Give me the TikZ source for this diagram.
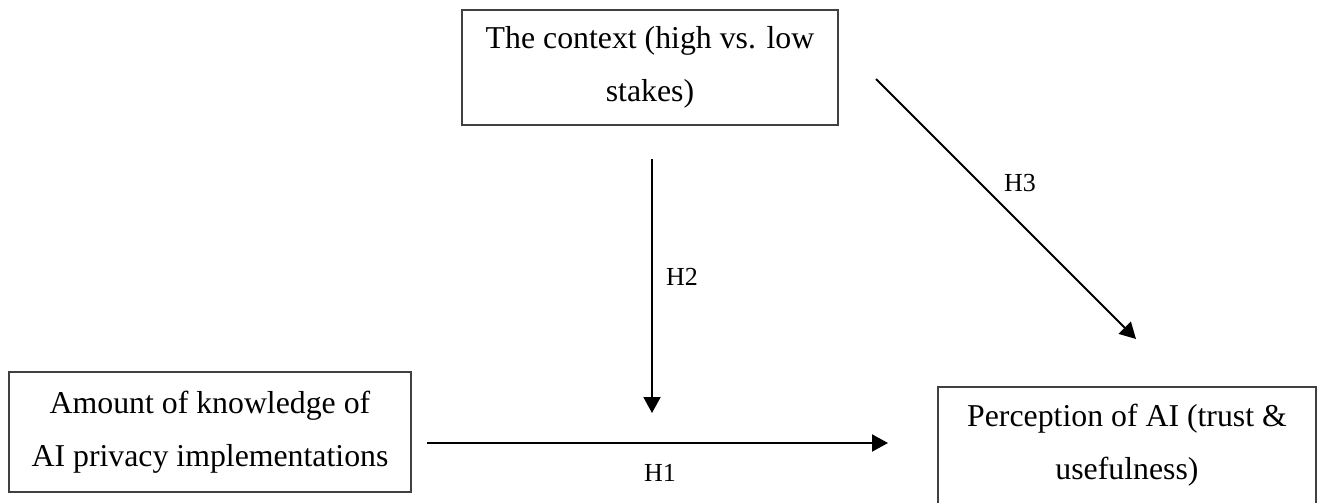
\documentclass[tikz,border=0pt]{standalone}
\usepackage{fontspec}
\setmainfont{Liberation Serif}
\usetikzlibrary{positioning,arrows.meta}

\tikzset{
	varbox/.style={draw=black!75,line width=0.8pt,align=center,inner sep=0pt,
		font=\fontsize{15.9}{26.5}\selectfont},
	hyparrow/.style={line width=1pt,-{Triangle[length=8pt,width=8.5pt]}},
	hyplabel/.style={font=\fontsize{13}{15}\selectfont}
}

\begin{document}
\begin{tikzpicture}[x=0.5pt,y=-0.5pt]
		
		\useasboundingbox
		(0,0)
		rectangle
		(1324,503);
		
		% variables
		\node[varbox,minimum width=188pt,minimum height=57.5pt] (context) at (650,67.5)
		{The context (high vs. low\\stakes)};
		
		\node[varbox,minimum width=201pt,minimum height=60pt] (knowledge) at (210,432)
		{Amount of knowledge of\\AI privacy implementations};
		
		\node[varbox,minimum width=189pt,minimum height=58.5pt] (perception) at (1127,445.5)
		{Perception of AI (trust \&\\usefulness)};
		
		% arrow ends
		\coordinate (h1s) at (427,443);
		\coordinate (h1e) at (888,443);
		\coordinate (h2s) at (652,159);
		\coordinate (h2e) at (652,413);
		\coordinate (h3s) at (876,79);
		\coordinate (h3e) at (1136,339);
		
		\draw[hyparrow] (h1s) -- (h1e);
		\draw[hyparrow] (h2s) -- (h2e);
		\draw[hyparrow] (h3s) -- (h3e);
		
		\node[hyplabel] (lh1) at (660,473) {H1};
		\node[hyplabel] (lh2) at (682,277) {H2};
		\node[hyplabel] (lh3) at (1020,183) {H3};
		
	\end{tikzpicture}
\end{document}
